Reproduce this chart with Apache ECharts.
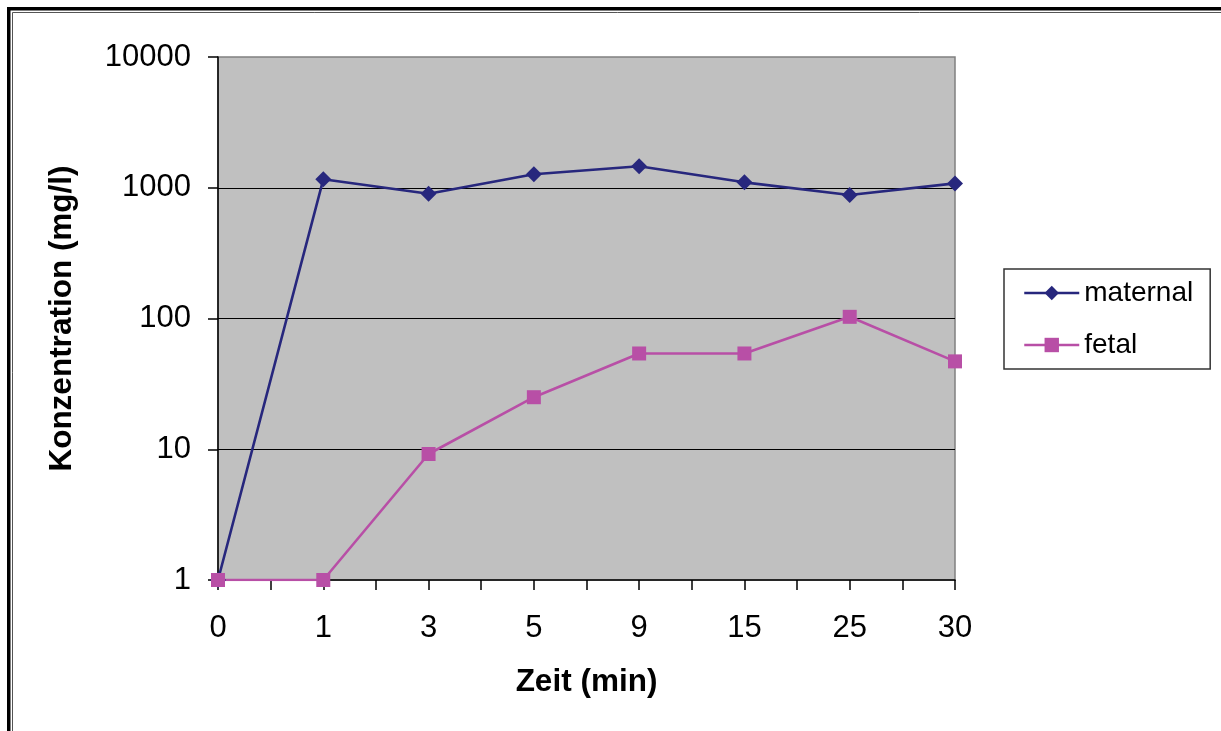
<!DOCTYPE html>
<html>
<head>
<meta charset="utf-8">
<script src="https://cdn.jsdelivr.net/npm/echarts@6/dist/echarts.min.js"></script>
<style>
html,body{margin:0;padding:0;background:#fff;}
#chart{width:1221px;height:731px;}
</style>
</head>
<body>
<div id="chart"></div>
<script>
var categories = ['0', '1', '3', '5', '9', '15', '25', '30'];
var maternal = [1, 1160, 900, 1270, 1460, 1100, 880, 1080];
var fetal = [1, 1, 9.2, 25, 54, 54, 103, 47];
var seriesNames = ['maternal', 'fetal'];
var xTitle = 'Zeit (min)';
var yTitle = 'Konzentration (mg/l)';

var FONT = 'Arial, "Liberation Sans", sans-serif';
var chart = echarts.init(document.getElementById('chart'), null, {renderer: 'canvas'});

var option = {
  backgroundColor: '#ffffff',
  animation: false,
  graphic: [
    {type: 'rect', shape: {x: 8.75, y: 8.75, width: 1400, height: 1000}, style: {fill: 'none', stroke: '#000', lineWidth: 3.5}, silent: true},
    {type: 'rect', shape: {x: 12.5, y: 12.5, width: 1400, height: 1000}, style: {fill: 'none', stroke: '#555', lineWidth: 1}, silent: true}
  ],
  grid: {
    left: 218, right: 266, top: 57, bottom: 151,
    show: true, backgroundColor: '#C0C0C0', borderColor: '#808080', borderWidth: 1.5
  },
  legend: {
    orient: 'vertical',
    left: 1004, top: 269,
    data: seriesNames,
    backgroundColor: '#fff',
    borderColor: '#333', borderWidth: 1.5,
    padding: [10, 17, 10, 19],
    itemWidth: 55, itemHeight: 18, itemGap: 24,
    lineStyle: {width: 2.5},
    textStyle: {fontFamily: FONT, fontSize: 28, color: '#000'}
  },
  xAxis: [
    {
      type: 'category', data: categories, boundaryGap: false,
      name: xTitle, nameLocation: 'middle', nameGap: 86,
      nameTextStyle: {fontFamily: FONT, fontSize: 31.5, fontWeight: 'bold', color: '#000'},
      axisLine: {show: true, lineStyle: {color: '#000', width: 1.5}},
      axisTick: {show: false},
      axisLabel: {fontFamily: FONT, fontSize: 31, color: '#000', margin: 33},
      splitLine: {show: false}
    },
    {
      type: 'value', min: 0, max: 7, interval: 0.5, position: 'bottom',
      axisLine: {show: false},
      axisTick: {show: true, length: 10, lineStyle: {color: '#000', width: 1.5}},
      axisLabel: {show: false},
      splitLine: {show: false}
    }
  ],
  yAxis: {
    type: 'log', logBase: 10, min: 1, max: 10000,
    name: yTitle, nameLocation: 'middle', nameGap: 140,
    nameTextStyle: {fontFamily: FONT, fontSize: 31.5, fontWeight: 'bold', color: '#000'},
    axisLine: {show: true, lineStyle: {color: '#000', width: 1.5}},
    axisTick: {show: true, length: 10, lineStyle: {color: '#000', width: 1.5}},
    axisLabel: {fontFamily: FONT, fontSize: 31, color: '#000', margin: 27,
      formatter: function (v) { return String(Math.round(v)); }},
    splitLine: {show: true, showMinLine: false, showMaxLine: false, lineStyle: {color: '#000', width: 1.2}}
  },
  series: [
    {
      name: seriesNames[0], type: 'line', data: maternal, xAxisIndex: 0,
      symbol: 'diamond', symbolSize: 16,
      itemStyle: {color: '#27277D'},
      lineStyle: {color: '#27277D', width: 2.6}
    },
    {
      name: seriesNames[1], type: 'line', data: fetal, xAxisIndex: 0,
      symbol: 'rect', symbolSize: 14,
      itemStyle: {color: '#B84FA6'},
      lineStyle: {color: '#B84FA6', width: 2.6}
    }
  ]
};
chart.setOption(option);
</script>
</body>
</html>
